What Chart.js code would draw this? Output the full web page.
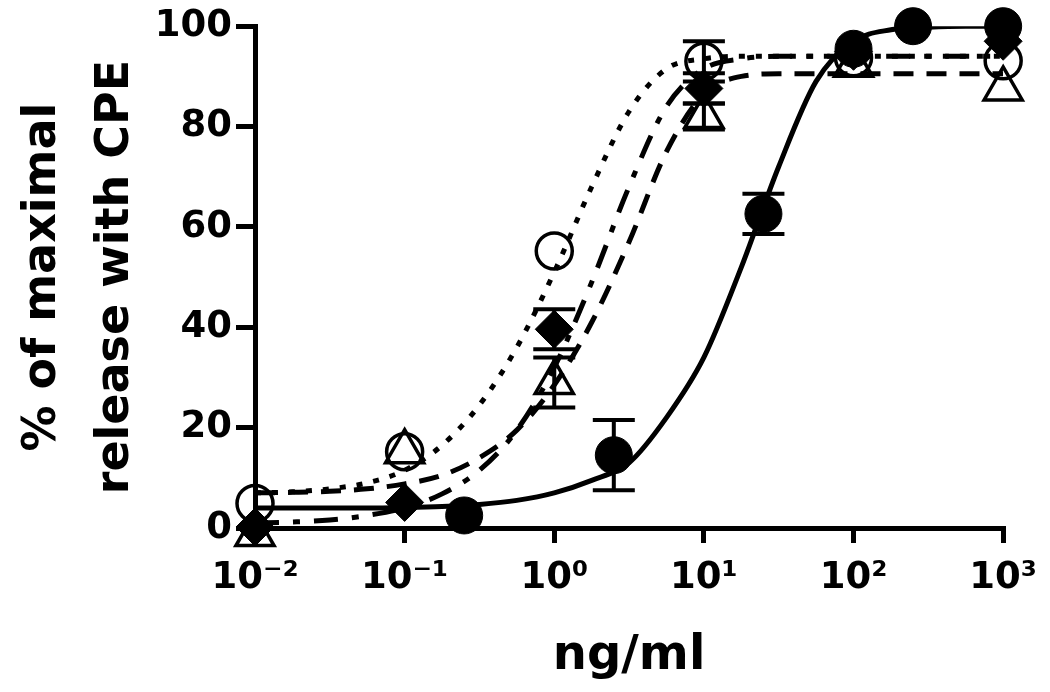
<!DOCTYPE html>
<html>
<head>
<meta charset="utf-8">
<script src="https://cdn.jsdelivr.net/npm/chart.js@4.4.1/dist/chart.umd.min.js"></script>
<style>
  html, body { margin: 0; padding: 0; background: #fff; }
  #wrap { width: 1050px; height: 692px; }
</style>
</head>
<body>
<div id="wrap"><canvas id="cpeChart" width="1050" height="692"></canvas></div>
<script>
'use strict';

// ===== Data =====
const xTicks      = [0.01, 0.1, 1, 10, 100, 1000];
const xTickLabels = ['10⁻²', '10⁻¹', '10⁰', '10¹', '10²', '10³'];
const yTicks      = [0, 20, 40, 60, 80, 100];

// measured points (mean, error)
const filledX   = [0.25, 2.5, 25, 100, 250, 1000];
const filledY   = [2.5, 14.5, 62.6, 95.5, 100, 100];
const filledErr = [0, 7, 4, 0, 0, 0];

const doseX      = [0.01, 0.1, 1, 10, 100, 1000];
const openY      = [4.9, 15.2, 55.2, 93, 93.7, 93.1];
const openErr    = [0, 0, 0, 4, 0, 0];
const diamondY   = [0.2, 5.1, 39.6, 87.6, 95, 97];
const diamondErr = [0, 0, 4, 3, 0, 0];
const triangleY  = [-1.3, 15.2, 29, 82, 92.2, 87.5];
const triangleErr = [0, 0, 5, 2.6, 0, 0];

// fitted curves, read at quarter-decade steps
const curveX = [0.01, 0.0178, 0.0316, 0.0562, 0.1, 0.178, 0.316, 0.562, 1, 1.78, 3.16,
                5.62, 10, 17.8, 31.6, 56.2, 100, 178, 316, 562, 1000];
const solidY   = [4, 4, 4, 4, 4.1, 4.3, 4.7, 5.5, 7, 9.5, 13, 22, 34, 52, 72, 89, 97, 99.3, 99.8, 100, 100];
const dottedY  = [7, 7.2, 7.8, 9, 11.5, 16.5, 24.5, 36, 51, 68, 83, 91.5, 93.5, 94, 94, 94, 94, 94, 94, 94, 94];
const dashDotY = [1, 1.2, 1.6, 2.5, 4, 6.8, 11.5, 19.5, 32, 49, 68, 84, 91.5, 93.5, 94, 94, 94, 94, 94, 94, 94];
const dashedY  = [7, 7.1, 7.3, 7.8, 8.8, 10.5, 14, 19.5, 28.5, 41, 57, 75, 86.5, 90, 90.5, 90.5, 90.5, 90.5, 90.5, 90.5, 90.5];

const black = '#000';
const font  = "'DejaVu Sans', sans-serif";

const pts = (xs, ys) => xs.map((x, i) => ({ x: x, y: ys[i] }));

function curve(ys, dash) {
  return {
    data: pts(curveX, ys),
    borderColor: black,
    borderWidth: 5,
    borderDash: dash,
    borderCapStyle: 'butt',
    cubicInterpolationMode: 'monotone',
    pointRadius: 0,
    fill: false,
    order: 2
  };
}

function markers(xs, ys, errs, style, radius, filled) {
  return {
    data: pts(xs, ys),
    errors: errs,
    showLine: false,
    pointStyle: style,
    pointRadius: radius,
    pointBorderWidth: filled ? 1 : 3.5,
    pointBorderColor: black,
    pointBackgroundColor: filled ? black : 'rgba(0,0,0,0)',
    clip: false,
    order: 1
  };
}

// ===== Error bars drawn through the chart's scales =====
const errorBars = {
  id: 'errorBars',
  afterDatasetsDraw(chart) {
    const { ctx } = chart;
    const xs = chart.scales.x, ys = chart.scales.y;
    ctx.save();
    ctx.strokeStyle = black;
    ctx.lineWidth = 4;
    chart.data.datasets.forEach(ds => {
      if (!ds.errors) return;
      ds.data.forEach((p, i) => {
        const e = ds.errors[i];
        if (!e) return;
        const px = xs.getPixelForValue(p.x);
        const top = ys.getPixelForValue(p.y + e);
        const bot = ys.getPixelForValue(p.y - e);
        ctx.beginPath();
        ctx.moveTo(px, top); ctx.lineTo(px, bot);
        ctx.moveTo(px - 21, top); ctx.lineTo(px + 21, top);
        ctx.moveTo(px - 21, bot); ctx.lineTo(px + 21, bot);
        ctx.stroke();
      });
    });
    ctx.restore();
  }
};

new Chart(document.getElementById('cpeChart'), {
  type: 'line',
  data: {
    datasets: [
      markers(filledX, filledY, filledErr, 'circle', 18.5, true),
      markers(doseX, openY, openErr, 'circle', 18, false),
      markers(doseX, diamondY, diamondErr, 'rectRot', 19, true),
      markers(doseX, triangleY, triangleErr, 'triangle', 22, false),
      curve(solidY, []),
      curve(dottedY, [6, 11]),
      curve(dashDotY, [24, 14, 7, 14]),
      curve(dashedY, [20, 13])
    ]
  },
  options: {
    responsive: false,
    animation: false,
    devicePixelRatio: 1,
    layout: { padding: { left: 0, right: 43, top: 22, bottom: 0 } },
    plugins: { legend: { display: false }, tooltip: { enabled: false } },
    scales: {
      x: {
        type: 'logarithmic',
        min: 0.01, max: 1000,
        afterBuildTicks: s => { s.ticks = xTicks.map(v => ({ value: v })); },
        afterFit: s => { s.height = 164; },
        ticks: {
          autoSkip: false, maxRotation: 0, padding: 13, color: black,
          font: { family: font, size: 37, weight: 'bold' },
          callback: function (v) { return xTickLabels[xTicks.indexOf(v)]; }
        },
        grid: { drawOnChartArea: false, tickLength: 15, lineWidth: 5, color: black },
        border: { color: black, width: 5 },
        title: {
          display: true, text: 'ng/ml', color: black,
          font: { family: font, size: 48, weight: 'bold' },
          padding: { top: 0, bottom: 7 }
        }
      },
      y: {
        min: 0, max: 100,
        afterBuildTicks: s => { s.ticks = yTicks.map(v => ({ value: v })); },
        afterFit: s => { s.width = 255; },
        ticks: {
          padding: 4, color: black,
          font: { family: font, size: 37, weight: 'bold' }
        },
        grid: { drawOnChartArea: false, tickLength: 19, lineWidth: 5, color: black },
        border: { color: black, width: 5 },
        title: {
          display: true, text: ['% of maximal', 'release with CPE'], color: black,
          font: { family: font, size: 46, weight: 'bold', lineHeight: 1.6 },
          padding: { top: 6, bottom: 0 }
        }
      }
    }
  },
  plugins: [errorBars]
});
</script>
</body>
</html>
